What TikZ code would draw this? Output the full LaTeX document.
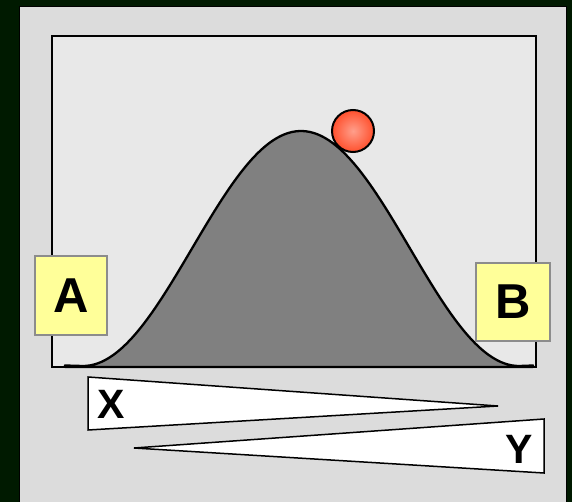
\documentclass[tikz,border=0pt]{standalone}
\usepackage{fontspec}
\setmainfont{Liberation Sans}
\definecolor{nightbg}{RGB}{0,26,0}
\definecolor{panelgray}{RGB}{220,220,220}
\definecolor{plotgray}{RGB}{232,232,232}
\definecolor{humpgray}{RGB}{128,128,128}
\definecolor{notebox}{RGB}{255,255,153}
\definecolor{ballred}{RGB}{255,80,45}

\begin{document}
\begin{tikzpicture}[x=1pt,y=-1pt,
  endbox/.style={draw=black!45,line width=1.5pt,fill=notebox,inner sep=0pt,font=\fontsize{49}{49}\selectfont\bfseries},
  wedge/.style={draw=black,line width=1.5pt,fill=white,line join=miter},
  wedgelabel/.style={inner sep=0pt,font=\fontsize{41}{41}\selectfont\bfseries}]

\useasboundingbox (0,0) rectangle (572,502);
\fill[nightbg] (0,0) rectangle (572,502);

% ============ panel and plot frame ============
\draw[black,line width=1pt,fill=panelgray] (19,7) rectangle (566,512);
\fill[plotgray] (52,36) rectangle (536,367);

% ============ hump with ball ============
\draw[black,line width=2.3pt,fill=humpgray,line join=round] (65,365.5) -- (83,366)
  -- plot[domain=83:519,samples=120,smooth] ({\x},{366-117.5*(1+cos((\x-301)/218*180))})
  -- (533,365.5) -- (533,367) -- (65,367) -- cycle;
\draw[black,line width=2.5pt] (52,36) rectangle (536,367);
\node[circle,draw=black,line width=2pt,minimum size=42pt,inner color=ballred!55!white,outer color=ballred] (ball) at (353,131) {};

% ============ end states ============
\node[endbox,minimum width=72pt,minimum height=79pt] (boxA) at (71,295.5) {A};
\node[endbox,minimum width=74pt,minimum height=78pt] (boxB) at (513,302) {B};

% ============ wedges ============
\draw[wedge] (88,377) -- (498,406) -- (88,430) -- cycle;
\draw[wedge] (544,419) -- (134,448) -- (544,473) -- cycle;
\node[wedgelabel,anchor=base west] (labelX) at (97,418) {X};
\node[wedgelabel,anchor=base] (labelY) at (519,463) {Y};

\end{tikzpicture}
\end{document}
